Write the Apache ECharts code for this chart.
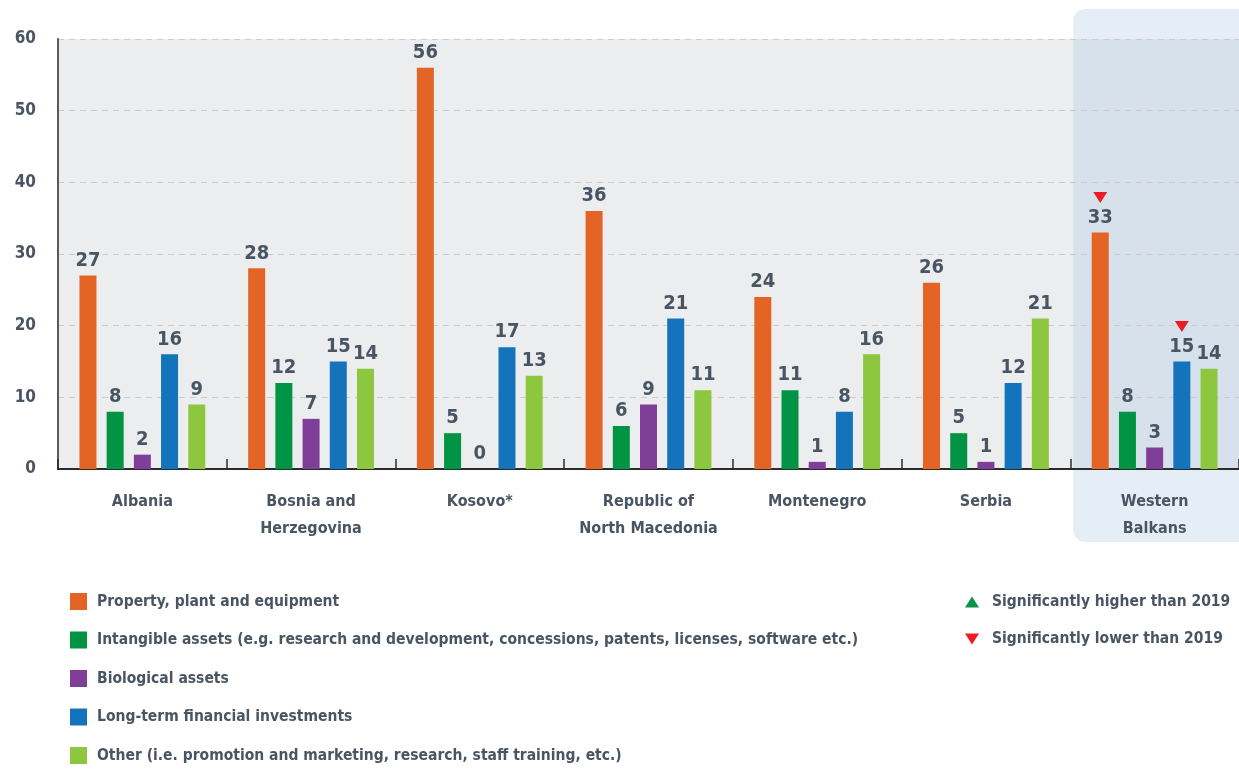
<!DOCTYPE html>
<html>
<head>
<meta charset="utf-8">
<script src="https://cdn.jsdelivr.net/npm/echarts@6/dist/echarts.min.js"></script>
<style>
  html, body { margin: 0; padding: 0; background: #ffffff; }
  #chart { width: 1239px; height: 769px; }
</style>
</head>
<body>
<div id="chart"></div>
<script>
// Share of firms' investment by asset type, Western Balkans economies (%)
const categories = ['Albania', 'Bosnia and\nHerzegovina', 'Kosovo*', 'Republic of\nNorth Macedonia', 'Montenegro', 'Serbia', 'Western\nBalkans'];
const seriesNames = [
  'Property, plant and equipment',
  'Intangible assets (e.g. research and development, concessions, patents, licenses, software etc.)',
  'Biological assets',
  'Long-term financial investments',
  'Other (i.e. promotion and marketing, research, staff training, etc.)'
];
const property   = [27, 28, 56, 36, 24, 26, 33];
const intangible = [8, 12, 5, 6, 11, 5, 8];
const biological = [2, 7, 0, 9, 1, 1, 3];
const longTerm   = [16, 15, 17, 21, 8, 12, 15];
const other      = [9, 14, 13, 11, 16, 21, 14];
const yTicks = [0, 10, 20, 30, 40, 50, 60];

// Changes against 2019: [series index, category index]
const higherThan2019 = [];
const lowerThan2019 = [[0, 6], [3, 6]];
const higherName = 'Significantly higher than 2019';
const lowerName = 'Significantly lower than 2019';

const colors = ['#E46426', '#009444', '#7F3F98', '#1474BB', '#8DC63F'];
const upColor = '#0B9444';
const downColor = '#ED1C24';
const textColor = '#4A5563';
const font = "'DejaVu Sans Condensed', 'Liberation Sans Narrow', 'Liberation Sans', sans-serif";
const values = [property, intangible, biological, longTerm, other];

const downTri = 'path://M0,0 L14,0 L7,11 Z';
const upTri = 'path://M7,0 L14,11 L0,11 Z';

function marksFor(si) {
  const pts = [];
  lowerThan2019.forEach(([s, c]) => { if (s === si) pts.push({ coord: [c, values[si][c]], symbol: downTri, itemStyle: { color: downColor, opacity: 1 } }); });
  higherThan2019.forEach(([s, c]) => { if (s === si) pts.push({ coord: [c, values[si][c]], symbol: upTri, itemStyle: { color: upColor, opacity: 1 } }); });
  return pts;
}

const chart = echarts.init(document.getElementById('chart'), null, { renderer: 'canvas' });

const barSeries = values.map((vals, i) => ({
  name: seriesNames[i],
  type: 'bar',
  data: vals,
  barWidth: 17,
  barGap: '60%',
  itemStyle: { color: colors[i] },
  label: {
    show: true,
    position: 'top',
    distance: 5,
    color: textColor,
    fontFamily: font,
    fontWeight: 'bold',
    fontSize: 20
  },
  markPoint: {
    symbolSize: [14, 11],
    symbolOffset: [0, -35],
    label: { show: false },
    silent: true,
    data: marksFor(i)
  }
}));

const option = {
  animation: false,
  backgroundColor: '#ffffff',
  textStyle: { fontFamily: font },
  grid: { left: 58, top: 39, right: -9, bottom: 300, containLabel: false },
  xAxis: {
    type: 'category',
    data: categories,
    axisLine: { lineStyle: { color: '#2b2b2b', width: 2 } },
    axisTick: { show: true, inside: true, length: 10, lineStyle: { color: '#2b2b2b', width: 1.5 } },
    axisLabel: {
      interval: 0,
      color: textColor, fontFamily: font, fontWeight: 'bold', fontSize: 16,
      margin: 19, lineHeight: 27
    },
    splitLine: { show: false }
  },
  yAxis: {
    type: 'value',
    min: yTicks[0],
    max: yTicks[yTicks.length - 1],
    interval: 10,
    axisLine: { show: true, lineStyle: { color: '#5a5a5a', width: 2 } },
    axisTick: { show: false },
    axisLabel: { color: textColor, fontFamily: font, fontWeight: 'bold', fontSize: 17, margin: 22 },
    splitLine: { show: true, lineStyle: { color: '#C9CDD1', type: [6, 5], width: 1 } }
  },
  legend: [
    {
      data: seriesNames,
      orient: 'vertical',
      left: 70,
      top: 593,
      padding: 0,
      icon: 'rect',
      itemWidth: 17,
      itemHeight: 17,
      itemGap: 21.5,
      selectedMode: false,
      textStyle: { color: textColor, fontFamily: font, fontWeight: 'bold', fontSize: 15.5, padding: [0, 0, 0, 5] }
    },
    {
      data: [
        { name: higherName, icon: upTri, itemStyle: { color: upColor, opacity: 1 } },
        { name: lowerName, icon: downTri, itemStyle: { color: downColor, opacity: 1 } }
      ],
      orient: 'vertical',
      left: 965,
      top: 594,
      padding: 0,
      itemWidth: 14,
      itemHeight: 11,
      itemGap: 21,
      selectedMode: false,
      textStyle: { color: textColor, fontFamily: font, fontWeight: 'bold', fontSize: 15.5, padding: [0, 0, 0, 8] }
    }
  ],
  series: barSeries.concat([
    { name: higherName, type: 'scatter', data: [], itemStyle: { color: upColor, opacity: 1 } },
    { name: lowerName, type: 'scatter', data: [], itemStyle: { color: downColor, opacity: 1 } }
  ])
};

chart.setOption(option);

// Plot backdrop and the highlighted regional-average panel, placed from the axes
const c0 = chart.convertToPixel({ xAxisIndex: 0 }, 0);
const c1 = chart.convertToPixel({ xAxisIndex: 0 }, 1);
const band = c1 - c0;
const last = categories.length - 1;
const panelLeft = chart.convertToPixel({ xAxisIndex: 0 }, last) - band / 2 + 3;
const plotLeft = c0 - band / 2;
const yTop = chart.convertToPixel({ yAxisIndex: 0 }, yTicks[yTicks.length - 1]);
const yBottom = chart.convertToPixel({ yAxisIndex: 0 }, 0);

chart.setOption({
  graphic: {
    elements: [
      {
        type: 'rect', z: -10, silent: true,
        shape: { x: plotLeft, y: yTop, width: panelLeft - plotLeft, height: yBottom - yTop },
        style: { fill: '#ECEDEF' }
      },
      {
        type: 'rect', z: -10, silent: true,
        shape: { x: panelLeft, y: yTop - 30, width: band + 40, height: yBottom - yTop + 103, r: 12 },
        style: { fill: '#E5EEF6' }
      },
      {
        type: 'rect', z: -9, silent: true,
        shape: { x: panelLeft, y: yTop, width: band + 40, height: yBottom - yTop },
        style: { fill: '#D6E1EB' }
      }
    ]
  }
});
</script>
</body>
</html>
